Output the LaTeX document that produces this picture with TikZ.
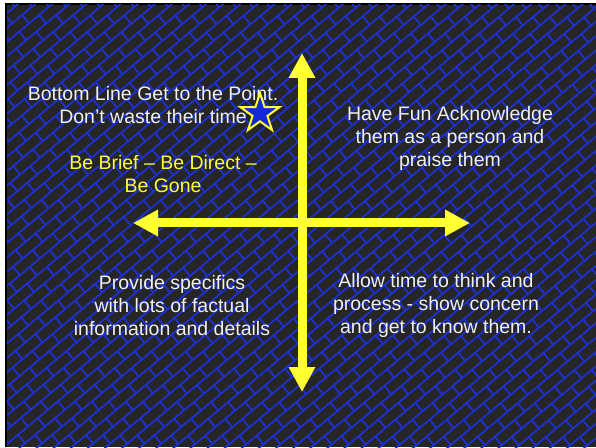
\documentclass[tikz,border=0pt]{standalone}
\usepackage{fontspec}
\setmainfont{Liberation Sans}
\usetikzlibrary{shapes.geometric, arrows.meta, positioning}
\definecolor{slatebg}{RGB}{38,38,38}
\definecolor{brick}{RGB}{30,48,215}
\definecolor{hiyellow}{RGB}{255,255,51}
\definecolor{starblue}{RGB}{20,40,215}

\begin{document}
\begin{tikzpicture}[
    x=1pt, y=1pt,
    quad/.style={align=center, font=\fontsize{19.5}{23}\selectfont, text=white!94!black, inner sep=0pt},
    motto/.style={quad, text=hiyellow},
    axis/.style={draw=hiyellow, line width=9pt, {Triangle[width=25pt,length=25pt]}-{Triangle[width=25pt,length=25pt]}},
    mortar/.style={draw=brick, line width=1.7pt}
]
    \useasboundingbox (0,0) rectangle (596,447);
    \fill[white] (0,0) rectangle (596,447);
    \fill[black] (5,0) rectangle (596,444);
    \fill[slatebg] (7,0) rectangle (596,442);

    % brick wall
    \begin{scope}
        \clip (7,0) rectangle (596,442);
        \begin{scope}[shift={(301,221)}, rotate=40]
            \foreach \k in {-35,...,35}{
                \draw[mortar] (-380,\k*11) -- (380,\k*11);
                \pgfmathsetmacro\off{mod(\k+100,2)*13}
                \foreach \j in {-15,...,15}
                    \draw[mortar] (\j*26+\off,\k*11) -- ++(0,11);
            }
        \end{scope}
    \end{scope}

    \coordinate (centre) at (302,224);
    \coordinate (top) at (302,394);
    \coordinate (bottom) at (302,55);
    \coordinate (left) at (133,224);
    \coordinate (right) at (470,224);

    \node[quad] (bottomline) at (153,341.5) {Bottom Line Get to the Point.\\Don’t waste their time};
    \node[motto] (brief) at (163,272.5) {Be Brief – Be Direct –\\Be Gone};
    \node[quad] (havefun) at (450,308.5) {Have Fun Acknowledge\\them as a person and\\praise them};
    \node[quad] (specifics) at (172,141) {Provide specifics\\with lots of factual\\information and details};
    \node[quad] (allowtime) at (436,141.5) {Allow time to think and\\process - show concern\\and get to know them.};

    \node[star, star points=5, star point ratio=2.618, minimum size=41pt, inner sep=0pt,
          fill=starblue, draw=hiyellow, line width=2pt] (mark) at (260,333.5) {};

    \draw[axis] (top) -- (bottom);
    \draw[axis] (left) -- (right);
\end{tikzpicture}
\end{document}
